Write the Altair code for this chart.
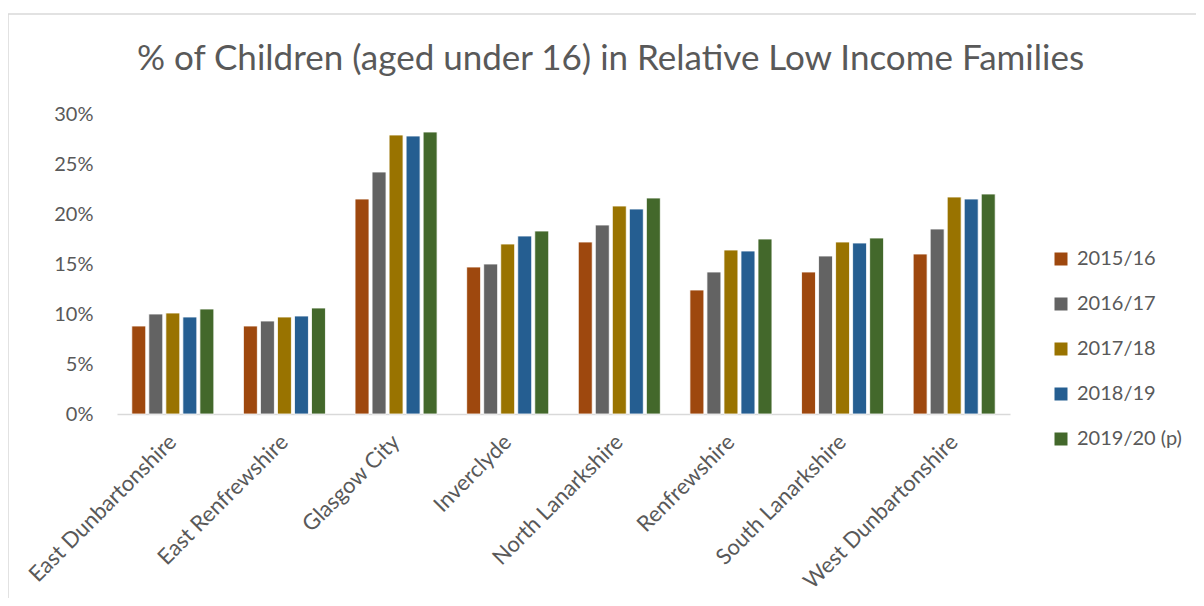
import altair as alt
import pandas as pd

areas = ["East Dunbartonshire", "East Renfrewshire", "Glasgow City", "Inverclyde",
         "North Lanarkshire", "Renfrewshire", "South Lanarkshire", "West Dunbartonshire"]
years = ["2015/16", "2016/17", "2017/18", "2018/19", "2019/20 (p)"]
colors = ["#9E480E", "#636363", "#997300", "#255E91", "#43682B"]

v2015 = [8.8, 8.8, 21.5, 14.7, 17.2, 12.4, 14.2, 16.0]
v2016 = [10.0, 9.3, 24.2, 15.0, 18.9, 14.2, 15.8, 18.5]
v2017 = [10.1, 9.7, 27.9, 17.0, 20.8, 16.4, 17.2, 21.7]
v2018 = [9.7, 9.8, 27.8, 17.8, 20.5, 16.3, 17.1, 21.5]
v2019 = [10.5, 10.6, 28.2, 18.3, 21.6, 17.5, 17.6, 22.0]

series = [v2015, v2016, v2017, v2018, v2019]
rows = []
for yr, vals in zip(years, series):
    for a, v in zip(areas, vals):
        rows.append({"area": a, "year": yr, "value": v})
df = pd.DataFrame(rows)

FONT = "Lato"
GREY = "#595959"

bars = alt.Chart(df).mark_bar(stroke="white", strokeWidth=0.8).encode(
    x=alt.X("area:N", sort=areas,
            scale=alt.Scale(paddingInner=0.265, paddingOuter=0.1325),
            axis=alt.Axis(title=None, labelAngle=-45, labelAlign="right", labelBaseline="middle",
                          labelFontSize=22, labelColor=GREY, labelFont=FONT, labelPadding=24,
                          labelLimit=0, labelOverlap=False,
                          ticks=False, domainColor="#D9D9D9", domainWidth=1.5)),
    xOffset=alt.XOffset("year:N", sort=years,
                        scale=alt.Scale(paddingInner=0.18, paddingOuter=0)),
    y=alt.Y("value:Q",
            scale=alt.Scale(domain=[0, 30], nice=False),
            axis=alt.Axis(title=None, values=[0, 5, 10, 15, 20, 25, 30],
                          labelExpr="datum.value + '%'", labelFontSize=20,
                          labelColor=GREY, labelFont=FONT, labelPadding=24,
                          ticks=False, domain=False, grid=False)),
    color=alt.Color("year:N", sort=years,
                    scale=alt.Scale(domain=years, range=colors),
                    legend=alt.Legend(title=None, orient="none", legendX=934, legendY=135,
                                      symbolType="square", symbolSize=169, symbolStrokeWidth=0,
                                      labelFontSize=20, labelColor=GREY, labelFont=FONT,
                                      rowPadding=25, labelOffset=6)),
)

frame = alt.Chart(pd.DataFrame({"k": [0]})).mark_rect(
    fill=None, stroke="#D9D9D9", strokeWidth=1.5
).encode(
    x=alt.value(-109), x2=alt.value(1200),
    y=alt.value(-100), y2=alt.value(600),
)

chart = alt.layer(frame, bars).properties(
    width=893, height=300,
    padding={"left": 109, "top": 106, "right": 186, "bottom": 184},
    autosize=alt.AutoSizeParams(type="none"),
    title=alt.TitleParams(
        "% of Children (aged under 16) in Relative Low Income Families",
        font=FONT, fontSize=35, fontWeight="normal", color=GREY,
        anchor="middle", dx=47, offset=0, baseline="alphabetic", dy=92,
    ),
).configure_view(stroke=None)

chart.save("out.html", embed_options={"renderer": "svg", "actions": False})
